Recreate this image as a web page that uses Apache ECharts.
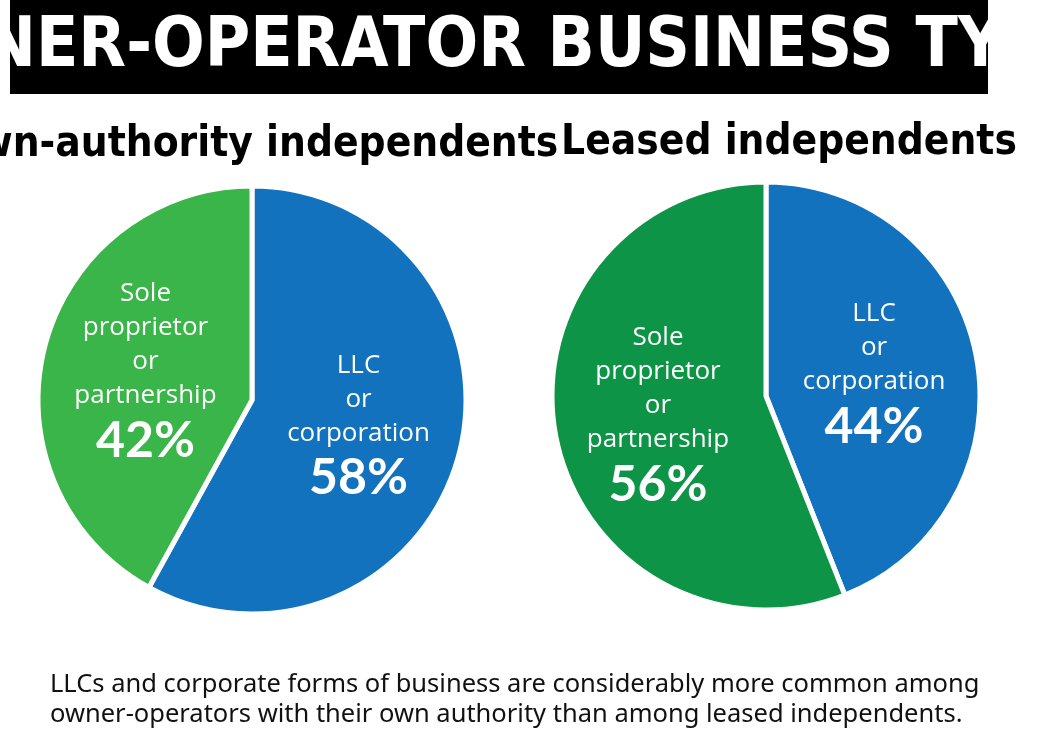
<!DOCTYPE html>
<html><head><meta charset="utf-8">
<script src="https://cdn.jsdelivr.net/npm/echarts@6/dist/echarts.min.js"></script>
<style>html,body{margin:0;padding:0;background:#fff}#c{width:1060px;height:735px}</style>
</head><body><div id="c"></div>
<script>
var categories = ['LLC\nor\ncorporation', 'Sole\nproprietor\nor\npartnership'];
var ownAuthority = [58, 42];
var leased = [44, 56];
var chartTitle = 'OWNER-OPERATOR BUSINESS TYPES';
var subTitles = ['Own-authority independents', 'Leased independents'];
var note = 'LLCs and corporate forms of business are considerably more common among\nowner-operators with their own authority than among leased independents.';

var myChart = echarts.init(document.getElementById('c'));

function makePie(values, center, colors) {
	return {
		type: 'pie',
		center: center,
		radius: 214,
		startAngle: 90,
		clockwise: true,
		silent: true,
		itemStyle: { borderColor: '#fff', borderWidth: 5 },
		label: {
			position: 'inside',
			formatter: function(p) { return '{t|' + p.name + '}\n{v|' + p.value + '%}'; },
			rich: {
				t: { color: '#fff', fontSize: 26, lineHeight: 34, fontFamily: 'Open Sans', align: 'center' },
				v: { color: '#fff', fontSize: 50, lineHeight: 56, fontWeight: 'bold', fontFamily: 'Lato', align: 'center' }
			}
		},
		labelLine: { show: false },
		data: values.map(function(v, i) {
			return { name: categories[i], value: v, itemStyle: { color: colors[i] } };
		})
	};
}

var option = {
	animation: false,
	graphic: [
		{ type: 'rect', shape: { x: 10, y: 0, width: 978, height: 94 }, style: { fill: '#000' } },
		{ type: 'text', x: 499, y: 48, style: { text: chartTitle, fill: '#fff', font: 'bold 69px "DejaVu Sans Condensed"', align: 'center', verticalAlign: 'middle' } },
		{ type: 'text', x: 252, y: 145, style: { text: subTitles[0], fill: '#000', font: 'bold 42px "DejaVu Sans Condensed"', align: 'center', verticalAlign: 'middle' } },
		{ type: 'text', x: 789, y: 143, style: { text: subTitles[1], fill: '#000', font: 'bold 42px "DejaVu Sans Condensed"', align: 'center', verticalAlign: 'middle' } },
		{ type: 'text', x: 50, y: 670, style: { text: note, fill: '#111', font: '25.5px "Noto Sans"', lineHeight: 30 } }
	],
	series: [
		makePie(ownAuthority, [252, 400], ['#1272BE', '#3AB54A']),
		makePie(leased, [766, 396], ['#1272BE', '#0E9447'])
	]
};
myChart.setOption(option, true);
</script></body></html>
